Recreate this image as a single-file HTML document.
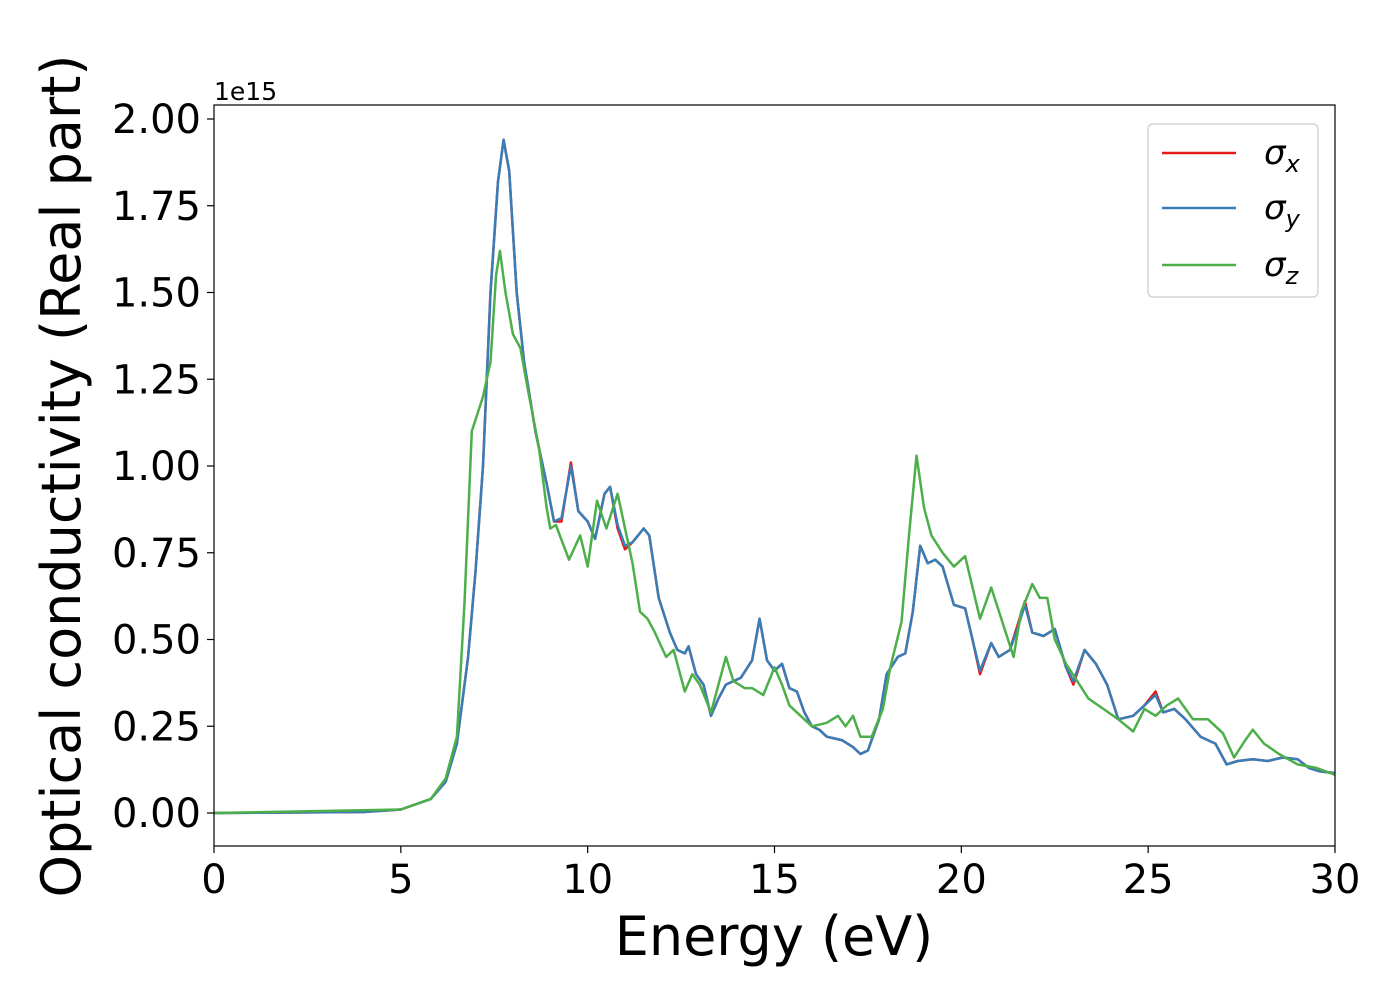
<!DOCTYPE html>
<html><head><meta charset="utf-8"><style>
body{margin:0;background:#fff;}
svg text{font-family:"DejaVu Sans","Liberation Sans",sans-serif;fill:#000;}
</style></head><body>
<svg id="chart" width="1400" height="1000" viewBox="0 0 1400 1000" xmlns="http://www.w3.org/2000/svg">
<rect width="1400" height="1000" fill="#fff"/>
<g id="marks"></g>
<rect x="214" y="105" width="1121" height="741" fill="none" stroke="#000" stroke-width="1.2"/>
<g id="axes"></g>
<text x="214" y="100" font-size="25">1e15</text>
<text x="774" y="955" font-size="54" text-anchor="middle">Energy (eV)</text>
<text transform="translate(80,476) rotate(-90)" font-size="54" text-anchor="middle">Optical conductivity (Real part)</text>
<g>
<rect x="1148" y="124" width="170" height="173" rx="5" fill="#fff" stroke="#ccc" stroke-width="1.2"/>
<line x1="1162" y1="153" x2="1236" y2="153" stroke="#e41a1c" stroke-width="2.5"/>
<line x1="1162" y1="208" x2="1236" y2="208" stroke="#377eb8" stroke-width="2.5"/>
<line x1="1162" y1="265" x2="1236" y2="265" stroke="#4daf4a" stroke-width="2.5"/>
<text x="1264" y="164" font-size="34" font-style="italic">σ<tspan font-size="24" dy="8">x</tspan></text>
<text x="1264" y="219" font-size="34" font-style="italic">σ<tspan font-size="24" dy="8">y</tspan></text>
<text x="1264" y="276" font-size="34" font-style="italic">σ<tspan font-size="24" dy="8">z</tspan></text>
</g>
</svg>
<script>
const xTicks=[0,5,10,15,20,25,30];
const yTicks=[0,0.25,0.5,0.75,1.0,1.25,1.5,1.75,2.0];
const yTickLabels=["0.00","0.25","0.50","0.75","1.00","1.25","1.50","1.75","2.00"];
const eXY=[0,4,5,5.8,6.2,6.5,6.8,7.0,7.2,7.4,7.6,7.75,7.9,8.1,8.3,8.6,8.9,9.1,9.3,9.55,9.75,10.0,10.2,10.45,10.6,10.8,11.0,11.2,11.5,11.65,11.9,12.2,12.4,12.6,12.7,12.9,13.1,13.3,13.5,13.7,14.1,14.4,14.6,14.8,15.0,15.2,15.4,15.6,15.8,16.0,16.2,16.4,16.8,17.1,17.3,17.5,17.8,18.0,18.3,18.5,18.7,18.9,19.1,19.3,19.5,19.8,20.1,20.3,20.5,20.8,21.0,21.3,21.5,21.7,21.9,22.2,22.5,22.8,23.0,23.3,23.6,23.9,24.2,24.6,24.9,25.2,25.4,25.7,26.0,26.4,26.8,27.1,27.4,27.8,28.2,28.6,29.0,29.3,29.6,30];
const sigmaY=[0,0.003,0.01,0.04,0.09,0.2,0.45,0.7,1.0,1.5,1.82,1.94,1.85,1.5,1.3,1.1,0.95,0.84,0.85,1.0,0.87,0.84,0.79,0.92,0.94,0.83,0.77,0.78,0.82,0.8,0.62,0.52,0.47,0.46,0.48,0.40,0.37,0.28,0.33,0.37,0.39,0.44,0.56,0.44,0.41,0.43,0.36,0.35,0.29,0.25,0.24,0.22,0.21,0.19,0.17,0.18,0.27,0.4,0.45,0.46,0.58,0.77,0.72,0.73,0.71,0.6,0.59,0.5,0.41,0.49,0.45,0.47,0.53,0.6,0.52,0.51,0.53,0.42,0.38,0.47,0.43,0.37,0.27,0.28,0.31,0.34,0.29,0.3,0.27,0.22,0.2,0.14,0.15,0.155,0.15,0.16,0.155,0.13,0.12,0.115];
const sigmaX=[0,0.003,0.01,0.04,0.09,0.2,0.45,0.7,1.0,1.5,1.82,1.94,1.85,1.5,1.3,1.1,0.95,0.84,0.84,1.01,0.87,0.84,0.79,0.92,0.94,0.82,0.76,0.78,0.82,0.8,0.62,0.52,0.47,0.46,0.48,0.40,0.37,0.28,0.33,0.37,0.39,0.44,0.56,0.44,0.41,0.43,0.36,0.35,0.29,0.25,0.24,0.22,0.21,0.19,0.17,0.18,0.27,0.4,0.45,0.46,0.58,0.77,0.72,0.73,0.71,0.6,0.59,0.5,0.40,0.49,0.45,0.47,0.54,0.61,0.52,0.51,0.53,0.42,0.37,0.47,0.43,0.37,0.27,0.28,0.31,0.35,0.29,0.3,0.27,0.22,0.2,0.14,0.15,0.155,0.15,0.16,0.155,0.13,0.12,0.115];
const eZ=[0,5,5.8,6.2,6.5,6.7,6.9,7.2,7.4,7.55,7.65,7.8,8.0,8.2,8.4,8.7,8.9,9.0,9.15,9.5,9.8,10.0,10.25,10.5,10.8,11.2,11.4,11.6,11.8,12.1,12.3,12.6,12.8,13.0,13.3,13.7,13.9,14.2,14.4,14.7,15.0,15.2,15.4,15.6,16.0,16.4,16.7,16.9,17.1,17.3,17.6,17.9,18.1,18.4,18.6,18.8,19.0,19.2,19.5,19.8,20.1,20.5,20.8,21.1,21.4,21.6,21.9,22.1,22.3,22.5,22.8,23.1,23.4,23.8,24.2,24.6,24.9,25.2,25.5,25.8,26.2,26.6,27.0,27.3,27.6,27.8,28.1,28.5,29.0,29.5,30];
const sigmaZ=[0,0.01,0.04,0.1,0.22,0.6,1.1,1.2,1.3,1.55,1.62,1.5,1.38,1.34,1.22,1.05,0.88,0.82,0.83,0.73,0.8,0.71,0.9,0.82,0.92,0.72,0.58,0.56,0.52,0.45,0.47,0.35,0.4,0.37,0.29,0.45,0.38,0.36,0.36,0.34,0.42,0.37,0.31,0.29,0.25,0.26,0.28,0.25,0.28,0.22,0.22,0.3,0.42,0.55,0.8,1.03,0.88,0.8,0.75,0.71,0.74,0.56,0.65,0.55,0.45,0.58,0.66,0.62,0.62,0.5,0.43,0.38,0.33,0.3,0.27,0.235,0.3,0.28,0.31,0.33,0.27,0.27,0.23,0.16,0.21,0.24,0.2,0.17,0.14,0.13,0.11];
const NS="http://www.w3.org/2000/svg";
const X0=214,X1=1335,Y0=813,Y2=119;
function sx(e){return X0+(X1-X0)*e/30;}
function sy(v){return Y0-(Y0-Y2)*v/2;}
function el(t,a){const n=document.createElementNS(NS,t);for(const k in a)n.setAttribute(k,a[k]);return n;}
const axes=document.getElementById('axes'),marks=document.getElementById('marks');
xTicks.forEach(t=>{
 const l=el('line',{x1:sx(t),x2:sx(t),y1:846,y2:853,stroke:'#000','stroke-width':1.2});
 
 
 axes.appendChild(l);
 const tx=el('text',{x:sx(t),y:893,'font-size':40,'text-anchor':'middle'});
 
 
 tx.textContent=t;axes.appendChild(tx);
});
yTicks.forEach((t,i)=>{
 const l=el('line',{x1:207,x2:214,y1:sy(t),y2:sy(t),stroke:'#000','stroke-width':1.2});
 
 
 axes.appendChild(l);
 const tx=el('text',{x:201,y:sy(t)+14,'font-size':40,'text-anchor':'end'});
 
 
 tx.textContent=yTickLabels[i];axes.appendChild(tx);
});
function line(es,vs,color,name){
 const p=el('polyline',{points:es.map((e,i)=>sx(e).toFixed(1)+','+sy(vs[i]).toFixed(1)).join(' '),fill:'none',stroke:color,'stroke-width':2.5,'stroke-linejoin':'round'});
 
 
 marks.appendChild(p);
}
line(eXY,sigmaX,'#e41a1c','sigma-x-line');
line(eXY,sigmaY,'#377eb8','sigma-y-line');
line(eZ,sigmaZ,'#4daf4a','sigma-z-line');
</script>
</body></html>
